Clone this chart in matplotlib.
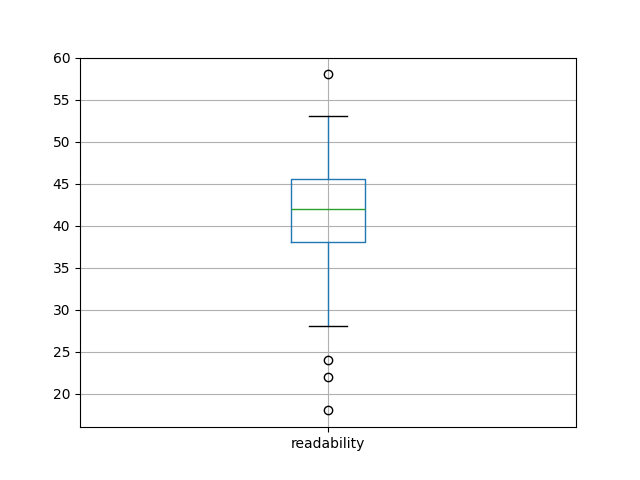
import matplotlib
matplotlib.use("Agg")
import matplotlib.pyplot as plt

# box statistics
label = "readability"
q1, med, q3 = 38.1, 42.0, 45.6
whis_lo, whis_hi = 28.0, 53.0
outliers = [58.0, 24.0, 22.0, 18.0]

stats = [dict(label=label, q1=q1, med=med, q3=q3,
              whislo=whis_lo, whishi=whis_hi, fliers=outliers)]

fig, ax = plt.subplots(figsize=(6.4, 4.8), dpi=100)
ax.bxp(stats,
       boxprops=dict(color="C0"),
       whiskerprops=dict(color="C0"),
       capprops=dict(color="k"),
       medianprops=dict(color="C2"),
       flierprops=dict(marker="o", markeredgecolor="k", markerfacecolor="none"))
ax.grid(True)
ax.set_ylim(16.0, 60)
ax.set_yticks(range(20, 61, 5))

fig.savefig("out.png")
